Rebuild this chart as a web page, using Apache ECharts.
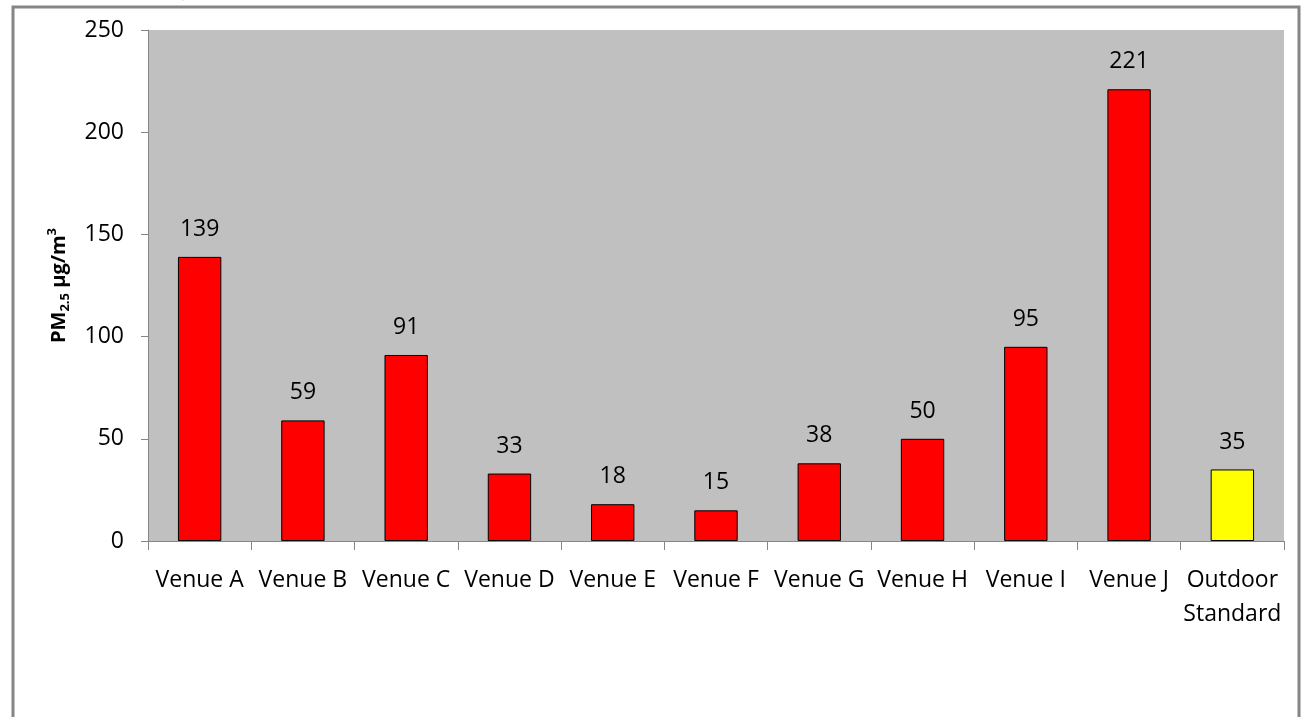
<!DOCTYPE html>
<html>
<head>
<meta charset="utf-8">
<script src="https://cdn.jsdelivr.net/npm/echarts@6/dist/echarts.min.js"></script>
<style>
  html, body { margin: 0; padding: 0; background: #fff; }
  #chart { width: 1304px; height: 717px; }
</style>
</head>
<body>
<div id="chart"></div>
<script>
// venues + outdoor standard
const categories = ['Venue A', 'Venue B', 'Venue C', 'Venue D', 'Venue E', 'Venue F',
  'Venue G', 'Venue H', 'Venue I', 'Venue J', 'Outdoor\nStandard'];
const pmValues = [139, 59, 91, 33, 18, 15, 38, 50, 95, 221, 35];
const barColors = ['#FF0000', '#FF0000', '#FF0000', '#FF0000', '#FF0000', '#FF0000',
  '#FF0000', '#FF0000', '#FF0000', '#FF0000', '#FFFF00'];
const yTicks = [0, 50, 100, 150, 200, 250];

const font = '"Open Sans", "Noto Sans", sans-serif';
const chart = echarts.init(document.getElementById('chart'));

const option = {
  animation: false,
  graphic: [
    {
      type: 'rect',
      shape: { x: 13, y: 7, width: 1286, height: 760 },
      style: { fill: 'none', stroke: '#858585', lineWidth: 3 },
      silent: true
    },
    {
      // title cut off at top of the picture
      type: 'text',
      left: 60, top: -25,
      style: { text: 'per sample)', font: 'bold 26px "Liberation Serif", serif', fill: '#000' },
      silent: true,
      z: -1
    }
  ],
  grid: {
    left: 148, right: 20, top: 30, bottom: 176,
    show: true, backgroundColor: '#C0C0C0', borderWidth: 0
  },
  xAxis: {
    type: 'category',
    data: categories,
    axisLine: { lineStyle: { color: '#868686', width: 1 } },
    axisTick: { show: true, length: 9, lineStyle: { color: '#868686' } },
    axisLabel: {
      interval: 0, margin: 22, color: '#000',
      fontFamily: font, fontSize: 23, lineHeight: 34
    }
  },
  yAxis: {
    type: 'value',
    min: yTicks[0], max: yTicks[yTicks.length - 1], interval: 50,
    name: '{a|PM}{b|2.5}{a| µg/m}{c|3}',
    nameLocation: 'middle',
    nameGap: 76,
    nameTextStyle: {
      rich: {
        a: { fontFamily: font, fontWeight: 'bold', fontSize: 20, color: '#000', lineHeight: 26, verticalAlign: 'middle' },
        b: { fontFamily: font, fontWeight: 'bold', fontSize: 13, color: '#000', lineHeight: 26, verticalAlign: 'bottom' },
        c: { fontFamily: font, fontWeight: 'bold', fontSize: 13, color: '#000', lineHeight: 26, verticalAlign: 'top' }
      }
    },
    axisLine: { show: true, lineStyle: { color: '#868686', width: 1 } },
    axisTick: { show: true, length: 7, lineStyle: { color: '#868686' } },
    splitLine: { show: false },
    axisLabel: { margin: 24, color: '#000', fontFamily: font, fontSize: 23 }
  },
  series: [{
    type: 'bar',
    data: pmValues.map((v, i) => ({ value: v, itemStyle: { color: barColors[i] } })),
    barWidth: '42%',
    itemStyle: { borderColor: '#000', borderWidth: 1 },
    label: {
      show: true, position: 'top', distance: 16,
      color: '#000', fontFamily: font, fontSize: 23
    }
  }]
};

chart.setOption(option);
</script>
</body>
</html>
